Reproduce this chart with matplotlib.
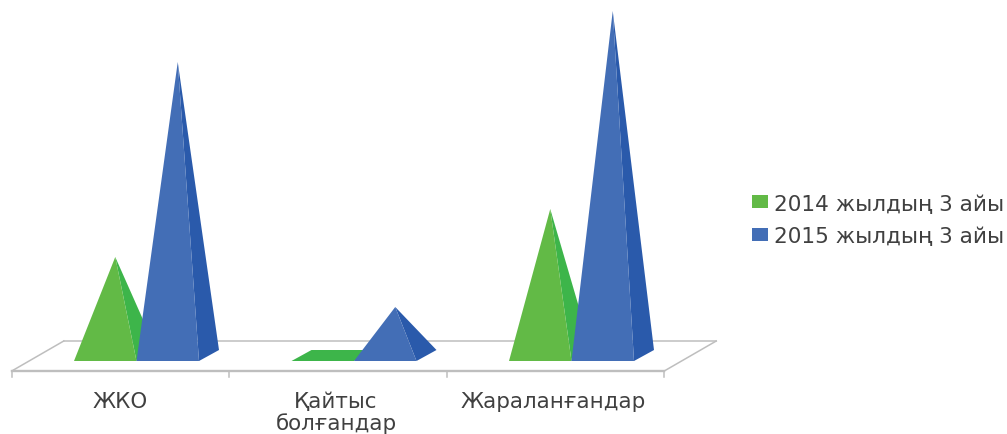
import matplotlib
matplotlib.use("Agg")
import matplotlib.pyplot as plt
from matplotlib.patches import Polygon, Patch

plt.rcParams['font.family'] = ['DejaVu Sans']

categories = ["ЖКО", "Қайтыс\nболғандар", "Жараланғандар"]
series_names = ["2014 жылдың 3 айы", "2015 жылдың 3 айы"]
values_2014 = [104, 0, 152]
values_2015 = [299, 54, 350]

GREEN_FRONT, GREEN_SIDE = "#62BA46", "#3DB54A"
BLUE_FRONT, BLUE_SIDE = "#436EB6", "#2A5AAB"
FLOOR = "#BEBEBE"
TEXT = "#404040"

W, H = 1007, 435
CAT_PX = 217.5          # pixels per category
X0_PX = 120.5           # pixel position of the first category on the front edge
Y0_PX = 362             # pixel row of the value baseline

fig = plt.figure(figsize=(W / 100, H / 100), dpi=100, facecolor="white")
ax = fig.add_axes([0, 0, 1, 1])
ax.set_xlim(-X0_PX / CAT_PX, (W - X0_PX) / CAT_PX)
ax.set_ylim(Y0_PX - H, Y0_PX)
ax.axis("off")

# oblique depth of a pyramid base and of the floor, in axis units
dx, dy = 20 / CAT_PX, 11
floor_front_y, floor_back_y = -10, 20
floor_shift = 52 / CAT_PX
tick_len = 6

# floor plane
left, right = -0.5, 2.5
ax.plot([left, left + floor_shift], [floor_front_y, floor_back_y], color=FLOOR, lw=1.1, zorder=1)
ax.plot([left + floor_shift, right + floor_shift], [floor_back_y, floor_back_y], color=FLOOR, lw=1.1, zorder=1)
ax.plot([right, right + floor_shift], [floor_front_y, floor_back_y], color=FLOOR, lw=1.1, zorder=1)
ax.plot([left, right], [floor_front_y, floor_front_y], color=FLOOR, lw=1.7, zorder=1)
for t in [-0.5, 0.5, 1.5, 2.5]:
    ax.plot([t, t], [floor_front_y, floor_front_y - tick_len], color=FLOOR, lw=1.1, zorder=1)


def pyramid(x_left, width, value, front, side, z):
    """Oblique pyramid: front face, right face and its apex over the base centre."""
    x_right = x_left + width
    apex = (x_left + width / 2 + dx / 2, value)
    if value == 0:
        ax.add_patch(Polygon([(x_left, 0), (x_right, 0), (x_right + dx, dy), (x_left + dx, dy)],
                             closed=True, fc=side, ec="none", zorder=z))
        return
    ax.add_patch(Polygon([(x_right, 0), (x_right + dx, dy), apex], closed=True, fc=side, ec="none", zorder=z))
    ax.add_patch(Polygon([(x_left, 0), (x_right, 0), apex], closed=True, fc=front, ec="none", zorder=z + 0.1))


bar_w = 62.5 / CAT_PX
group_shift = 16 / CAT_PX
for i, (a, b) in enumerate(zip(values_2014, values_2015)):
    c = i + group_shift
    pyramid(c - bar_w, bar_w, a, GREEN_FRONT, GREEN_SIDE, 2 + i)
    pyramid(c, bar_w, b, BLUE_FRONT, BLUE_SIDE, 2.5 + i)

label_x = [0, -2 / CAT_PX + 1, -2.5 / CAT_PX + 2]
for x, name in zip(label_x, categories):
    ax.text(x, -30, name, ha="center", va="top", fontsize=15.4, color=TEXT, linespacing=1.08)

handles = [Patch(fc=GREEN_FRONT, ec="none"), Patch(fc=BLUE_FRONT, ec="none")]
fig.legend(handles, series_names, loc="upper left", bbox_to_anchor=(745 / W, 1 - 188 / H),
           frameon=False, fontsize=15.6, labelcolor=TEXT, handlelength=0.74, handleheight=0.55,
           handletextpad=0.3, labelspacing=0.6, borderpad=0.3, borderaxespad=0)

fig.savefig("out.png", dpi=100, facecolor="white")
